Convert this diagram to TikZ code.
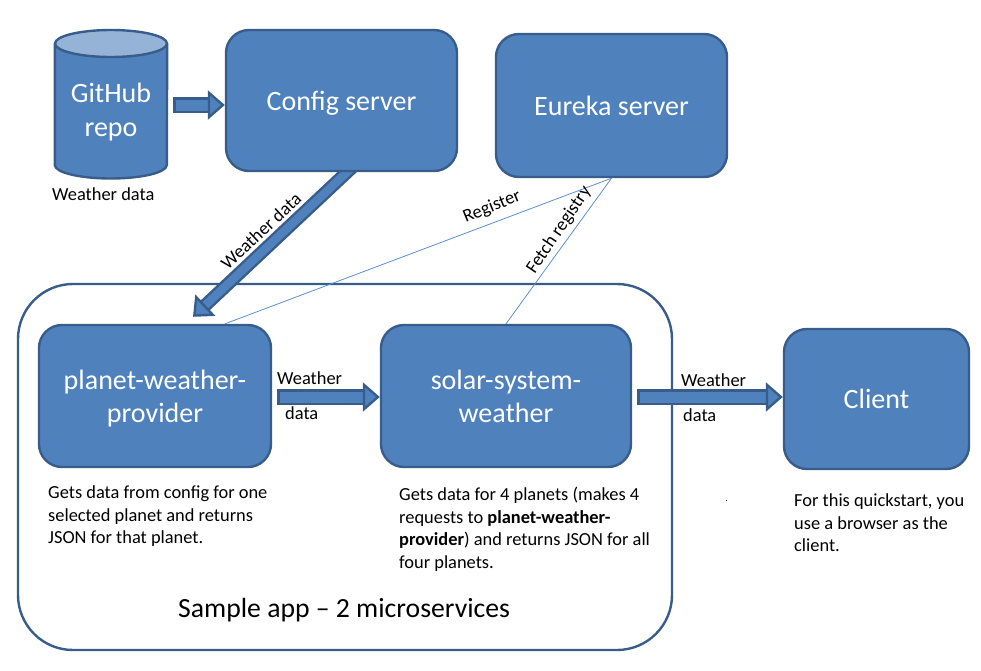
\documentclass[tikz,border=0pt]{standalone}
\usepackage{fontspec}
\setmainfont{Carlito}
\usepackage{tikz}
\usetikzlibrary{arrows.meta,backgrounds}
\definecolor{boxfill}{HTML}{4F81BD}
\definecolor{boxedge}{HTML}{385D8A}
\definecolor{boxtop}{HTML}{95B3D7}
\definecolor{thinline}{HTML}{5B8FCF}

\begin{document}
\begin{tikzpicture}[
  x=1pt, y=-1pt,
  service/.style={draw=boxedge, fill=boxfill, line width=2.4pt, rounded corners=23pt,
                  text=white, align=center, font=\fontsize{28}{33}\selectfont},
  repoface/.style={draw=boxedge, line width=2.4pt},
  blockarr/.style={draw=boxedge, double=boxfill, line width=2.4pt, double distance=11pt,
                   {Bar[width=15.8pt,line width=2.4pt]}-{Triangle[length=17pt,width=29pt,fill=boxfill,line width=2.4pt]}},
  wirearr/.style={draw=thinline, line width=0.8pt},
  smalltext/.style={font=\fontsize{18.4}{22.5}\selectfont, inner sep=0pt, align=left},
  whitetext/.style={text=white, align=center, font=\fontsize{28}{34}\selectfont}
]
  \useasboundingbox (0,0) rectangle (981,670);

  % Top row
  \node[minimum width=112pt, minimum height=148pt, inner sep=0pt] (repo) at (111,104) {};
  \draw[repoface, fill=boxfill] (repo.west |- 0,43.5) -- (repo.west |- 0,165)
       arc[start angle=180, end angle=360, x radius=56pt, y radius=13.5pt]
       -- (repo.east |- 0,43.5);
  \draw[repoface, fill=boxtop] (111,43.5) ellipse [x radius=56pt, y radius=13.5pt];
  \node[whitetext] (repolabel) at (111,112.5) {GitHub\\repo};
  \node[smalltext, anchor=west] (repodata) at (52,194) {Weather data};
  \node[service, minimum width=231pt, minimum height=141pt, text height=24pt] (config) at (341.5,100.5) {Config server};
  \node[service, minimum width=231pt, minimum height=143pt] (eureka) at (611.5,105.5) {Eureka server};

  % Middle row
  \node[service, minimum width=232pt, minimum height=142pt, text height=57pt] (planet) at (155,396) {planet-weather-\\provider};
  \node[service, minimum width=250pt, minimum height=142pt] (solar) at (506,396) {solar-system-\\weather};
  \node[service, minimum width=185pt, minimum height=140pt] (client) at (876.5,399) {Client};

  % Container and the big arrow go under the boxes
  \begin{scope}[on background layer]
    \node[draw=boxedge, line width=2.4pt, rounded corners=55pt, minimum width=654pt,
          minimum height=366pt] (sample) at (345,467) {};
    \draw[draw=boxedge, double=boxfill, line width=2.4pt, double distance=8.5pt,
          -{Triangle[length=17pt,width=29pt,fill=boxfill,line width=2.4pt]}]
         ([xshift=14pt,yshift=8pt]config.south) -- ([xshift=38pt,yshift=7pt]planet.north);
  \end{scope}

  % Block arrows
  \draw[blockarr] ([xshift=6pt,yshift=-1pt]repo.east) -- ([yshift=-4.5pt]config.west);
  \draw[blockarr] ([xshift=5pt,yshift=-1pt]planet.east) -- ([yshift=-1pt]solar.west);
  \draw[blockarr] ([xshift=5pt,yshift=-1pt]solar.east) -- ([yshift=-1pt]client.west |- solar.east);

  % Thin lines to eureka
  \draw[wirearr] (eureka.south) -- ([xshift=70pt]planet.north);
  \draw[wirearr] (eureka.south) -- (solar.north);

  % Labels on connectors
  \node[smalltext, rotate=43] (configdata) at (261,231) {Weather data};
  \node[smalltext, rotate=22] (registerlabel) at (492,207) {Register};
  \node[smalltext, rotate=56] (fetchlabel) at (559,230) {Fetch registry};
  \node[smalltext, anchor=west] (planetflow) at (277,378) {Weather};
  \node[smalltext, anchor=west] (planetflowb) at (285,413) {data};
  \node[smalltext, anchor=west] (clientflow) at (681,380) {Weather};
  \node[smalltext, anchor=west] (clientflowb) at (683,415) {data};

  % Descriptions
  \node[smalltext, anchor=north west] (planetnote) at (48,486)
       {Gets data from config for one\\selected planet and returns\\JSON for that planet.};
  \node[smalltext, anchor=north west] (solarnote) at (399,487)
       {Gets data for 4 planets (makes 4\\requests to \textbf{planet-weather-}\\\textbf{provider}) and returns JSON for all\\four planets.};
  \node[smalltext, anchor=north west] (clientnote) at (794,494)
       {For this quickstart, you\\use a browser as the\\client.};
  \node[font=\fontsize{27.7}{30}\selectfont, inner sep=0pt, anchor=west] (samplelabel) at (178,610) {Sample app -- 2 microservices};

  % Speck
  \fill[black] (725.5,499.5) rectangle (726.5,500.5);
\end{tikzpicture}
\end{document}
